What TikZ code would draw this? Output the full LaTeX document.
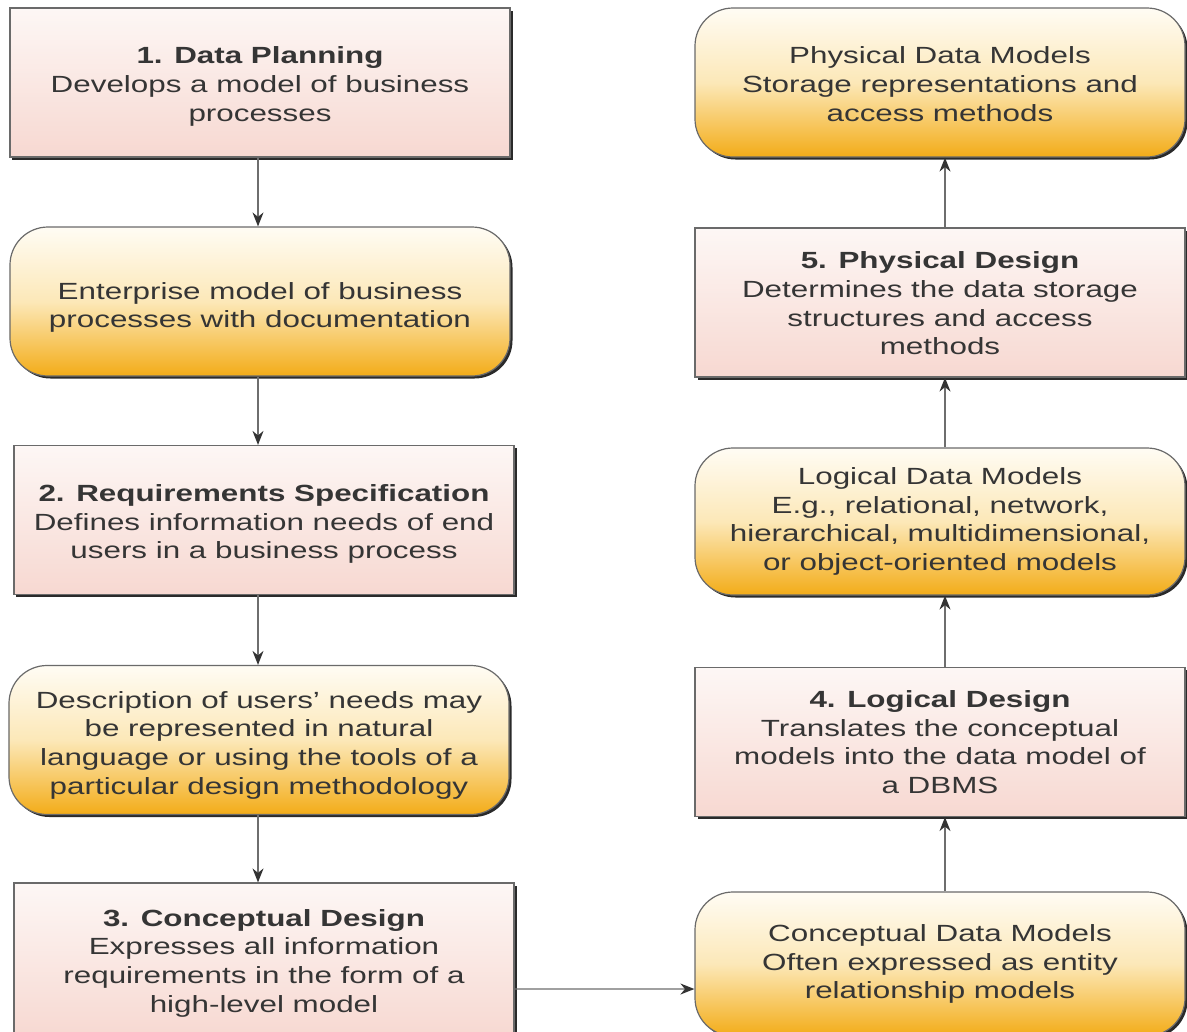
\documentclass[tikz,border=0pt]{standalone}
\usepackage{fontspec}
\setmainfont[FakeStretch=1.34]{Liberation Sans}
\usetikzlibrary{arrows.meta,shadows}
\definecolor{pinktop}{HTML}{FDF7F5}
\definecolor{pinkbot}{HTML}{F7D8D1}
\definecolor{creamtop}{HTML}{FFFCF4}
\definecolor{creammid}{HTML}{FCE8B8}
\definecolor{orangebot}{HTML}{F3AC18}
\definecolor{edgegray}{HTML}{6A6A6A}
\definecolor{shadowc}{HTML}{2A2A2A}
\definecolor{txt}{HTML}{353535}
\definecolor{linec}{HTML}{6E6E6E}
\definecolor{tipc}{HTML}{333333}
\newcommand{\lowertext}[1]{\rule{0pt}{#1}}
\tikzset{
  basebox/.style={draw=edgegray, line width=1.2bp, inner sep=0pt, align=center,
    text=txt, font=\fontsize{23.5}{28.8}\selectfont,
    drop shadow={shadow xshift=2.5bp, shadow yshift=-2.5bp, fill=shadowc, opacity=1}},
  procbox/.style={basebox, rectangle, top color=pinktop, bottom color=pinkbot,
    minimum height=149bp},
  databox/.style={basebox, rectangle, rounded corners=38bp, top color=creamtop,
    bottom color=orangebot, middle color=creammid, minimum height=149bp},
  leftw/.style={minimum width=500bp},
  rightw/.style={minimum width=490bp},
  arr/.style={draw=linec, line width=1.3bp, -{Stealth[length=14bp,width=11bp,color=tipc]}}
}
\begin{document}
\begin{tikzpicture}[x=1bp,y=-1bp]
\useasboundingbox[fill=white] (0,0) rectangle (1187,1032);

% left column
\node[procbox,leftw] (p1) at (260,82.5) {\lowertext{25bp}\textbf{1. Data Planning}\\Develops a model of business\\processes};
\node[databox,leftw] (d1) at (260,301.5) {\lowertext{29bp}Enterprise model of business\\processes with documentation};
\node[procbox,leftw] (p2) at (264,520) {\lowertext{25bp}\textbf{2. Requirements Specification}\\Defines information needs of end\\users in a business process};
\node[databox,leftw] (d2) at (259,740) {\lowertext{27bp}Description of users' needs may\\be represented in natural\\language or using the tools of a\\particular design methodology};
\node[procbox,leftw,minimum height=156bp] (p3) at (264,961) {\lowertext{21bp}\textbf{3. Conceptual Design}\\Expresses all information\\requirements in the form of a\\high-level model};

% right column
\node[databox,rightw] (d5) at (940,82.5) {\lowertext{20bp}Physical Data Models\\Storage representations and\\access methods};
\node[procbox,rightw] (p5) at (940,302.5) {\lowertext{19bp}\textbf{5. Physical Design}\\Determines the data storage\\structures and access\\methods};
\node[databox,rightw,minimum height=147bp] (d4) at (940,521.5) {Logical Data Models\\E.g., relational, network,\\hierarchical, multidimensional,\\or object-oriented models};
\node[procbox,rightw] (p4) at (940,742) {\textbf{4. Logical Design}\\Translates the conceptual\\models into the data model of\\a DBMS};
\node[databox,rightw,minimum height=144bp] (d3) at (940,964) {Conceptual Data Models\\Often expressed as entity\\relationship models};

% connectors
\draw[arr] (p1.south -| 258,0) -- (d1.north -| 258,0);
\draw[arr] (d1.south -| 258,0) -- (p2.north -| 258,0);
\draw[arr] (p2.south -| 258,0) -- (d2.north -| 258,0);
\draw[arr] (d2.south -| 258,0) -- (p3.north -| 258,0);
\draw[arr] ([yshift=-28bp]p3.east) -- ([yshift=-25bp]d3.west);
\draw[arr] (d3.north -| 945,0) -- (p4.south -| 945,0);
\draw[arr] (p4.north -| 945,0) -- (d4.south -| 945,0);
\draw[arr] (d4.north -| 945,0) -- (p5.south -| 945,0);
\draw[arr] (p5.north -| 945,0) -- (d5.south -| 945,0);
\end{tikzpicture}
\end{document}
